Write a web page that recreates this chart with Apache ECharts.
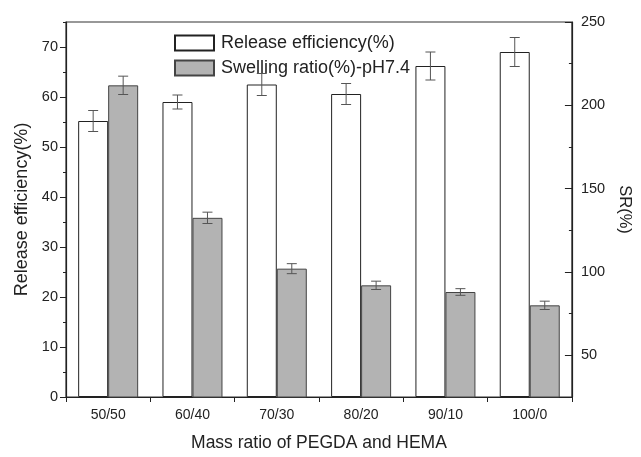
<!DOCTYPE html>
<html>
<head>
<meta charset="utf-8">
<script src="https://cdn.jsdelivr.net/npm/echarts@6/dist/echarts.min.js"></script>
<style>html,body{margin:0;padding:0;background:#fff;}#c{width:641px;height:457px;}</style>
</head>
<body>
<div id="c"></div>
<script>
var categories = ['50/50', '60/40', '70/30', '80/20', '90/10', '100/0'];
var releaseEff = [55.2, 59.0, 62.5, 60.6, 66.2, 69.0];
var releaseErr = [2.1, 1.4, 2.2, 2.1, 2.8, 2.9];
var swelling = [212, 132.5, 102, 92, 88, 80];
var swellErr = [5.5, 3.4, 3.0, 2.5, 2.0, 2.5];
var leftTicks = [0, 10, 20, 30, 40, 50, 60, 70];
var rightTicks = [50, 100, 150, 200, 250];

var FONT = '"Liberation Sans", Arial, sans-serif';
var chart = echarts.init(document.getElementById('c'), null, {renderer: 'canvas'});

function errItem(offset) {
  return function (params, api) {
    var x = api.value(0), lo = api.value(1), hi = api.value(2);
    var p1 = api.coord([x, lo]);
    var p2 = api.coord([x, hi]);
    var cx = p1[0] + offset;
    var cap = 5;
    var st = {stroke: '#555', lineWidth: 1};
    return {
      type: 'group',
      children: [
        {type: 'line', shape: {x1: cx, y1: p1[1], x2: cx, y2: p2[1]}, style: st},
        {type: 'line', shape: {x1: cx - cap, y1: p1[1], x2: cx + cap, y2: p1[1]}, style: st},
        {type: 'line', shape: {x1: cx - cap, y1: p2[1], x2: cx + cap, y2: p2[1]}, style: st}
      ]
    };
  };
}

var relErrData = releaseEff.map(function (v, i) { return [i, v - releaseErr[i], v + releaseErr[i]]; });
var swErrData = swelling.map(function (v, i) { return [i, v - swellErr[i], v + swellErr[i]]; });

var axisLineStyle = {color: '#222', width: 1.2};

chart.setOption({
  animation: false,
  backgroundColor: '#fff',
  textStyle: {fontFamily: FONT},
  grid: {left: 66, right: 61, top: 22, bottom: 53, show: true, borderColor: '#333', borderWidth: 1.2, backgroundColor: 'transparent'},
  legend: {
    orient: 'vertical', left: 174, top: 34, padding: 0, itemWidth: 39, itemHeight: 15, itemGap: 7,
    icon: 'rect',
    textStyle: {fontFamily: FONT, fontSize: 18, color: '#222', padding: [0, 0, 0, 2]},
    data: ['Release efficiency(%)', 'Swelling ratio(%)-pH7.4']
  },
  xAxis: {
    type: 'category', data: categories,
    axisLine: {lineStyle: axisLineStyle},
    axisTick: {show: true, inside: false, length: 5, alignWithLabel: false, lineStyle: {color: '#222'}},
    axisLabel: {fontFamily: FONT, fontSize: 14, color: '#222', margin: 11},
    name: 'Mass ratio of PEGDA and HEMA', nameLocation: 'middle', nameGap: 37,
    nameTextStyle: {fontFamily: FONT, fontSize: 17.5, color: '#222'},
    splitLine: {show: false}
  },
  yAxis: [
    {
      type: 'value', position: 'left', min: 0, max: 75,
      axisLine: {show: true, lineStyle: axisLineStyle},
      axisTick: {show: true, inside: false, length: 6, customValues: leftTicks, lineStyle: {color: '#222'}},
      axisLabel: {fontFamily: FONT, fontSize: 14.5, color: '#222', margin: 8, customValues: leftTicks},
      splitLine: {show: false},
      name: 'Release efficiency(%)', nameLocation: 'middle', nameGap: 35,
      nameTextStyle: {fontFamily: FONT, fontSize: 18, color: '#222'}
    },
    {
      type: 'value', position: 'right', min: 25, max: 250,
      axisLine: {show: true, lineStyle: axisLineStyle},
      axisTick: {show: true, inside: true, length: 7, customValues: rightTicks, lineStyle: {color: '#222'}},
      axisLabel: {fontFamily: FONT, fontSize: 14.5, color: '#222', margin: 9, customValues: rightTicks},
      splitLine: {show: false},
      name: 'SR(%)', nameLocation: 'middle', nameGap: 40, nameRotate: -90,
      nameTextStyle: {fontFamily: FONT, fontSize: 16.5, color: '#222'}
    },
    {
      type: 'value', position: 'left', min: 0, max: 75, interval: 5,
      axisLine: {show: false}, axisLabel: {show: false}, splitLine: {show: false},
      axisTick: {show: true, inside: false, length: 3, lineStyle: {color: '#222'}}
    },
    {
      type: 'value', position: 'right', min: 25, max: 250, interval: 25,
      axisLine: {show: false}, axisLabel: {show: false}, splitLine: {show: false},
      axisTick: {show: true, inside: true, length: 3, lineStyle: {color: '#222'}}
    }
  ],
  series: [
    {
      name: 'Release efficiency(%)', type: 'bar', yAxisIndex: 0, data: releaseEff,
      barWidth: 30, barGap: '0%',
      itemStyle: {color: '#ffffff', borderColor: '#222', borderWidth: 1}
    },
    {
      name: 'Swelling ratio(%)-pH7.4', type: 'bar', yAxisIndex: 1, data: swelling,
      barWidth: 30, barGap: '0%',
      itemStyle: {color: '#b3b3b3', borderColor: '#444', borderWidth: 1}
    },
    {
      type: 'custom', yAxisIndex: 0, data: relErrData, renderItem: errItem(-15),
      encode: {x: 0, y: [1, 2]}, z: 5, silent: true
    },
    {
      type: 'custom', yAxisIndex: 1, data: swErrData, renderItem: errItem(15),
      encode: {x: 0, y: [1, 2]}, z: 5, silent: true
    }
  ]
});
</script>
</body>
</html>
